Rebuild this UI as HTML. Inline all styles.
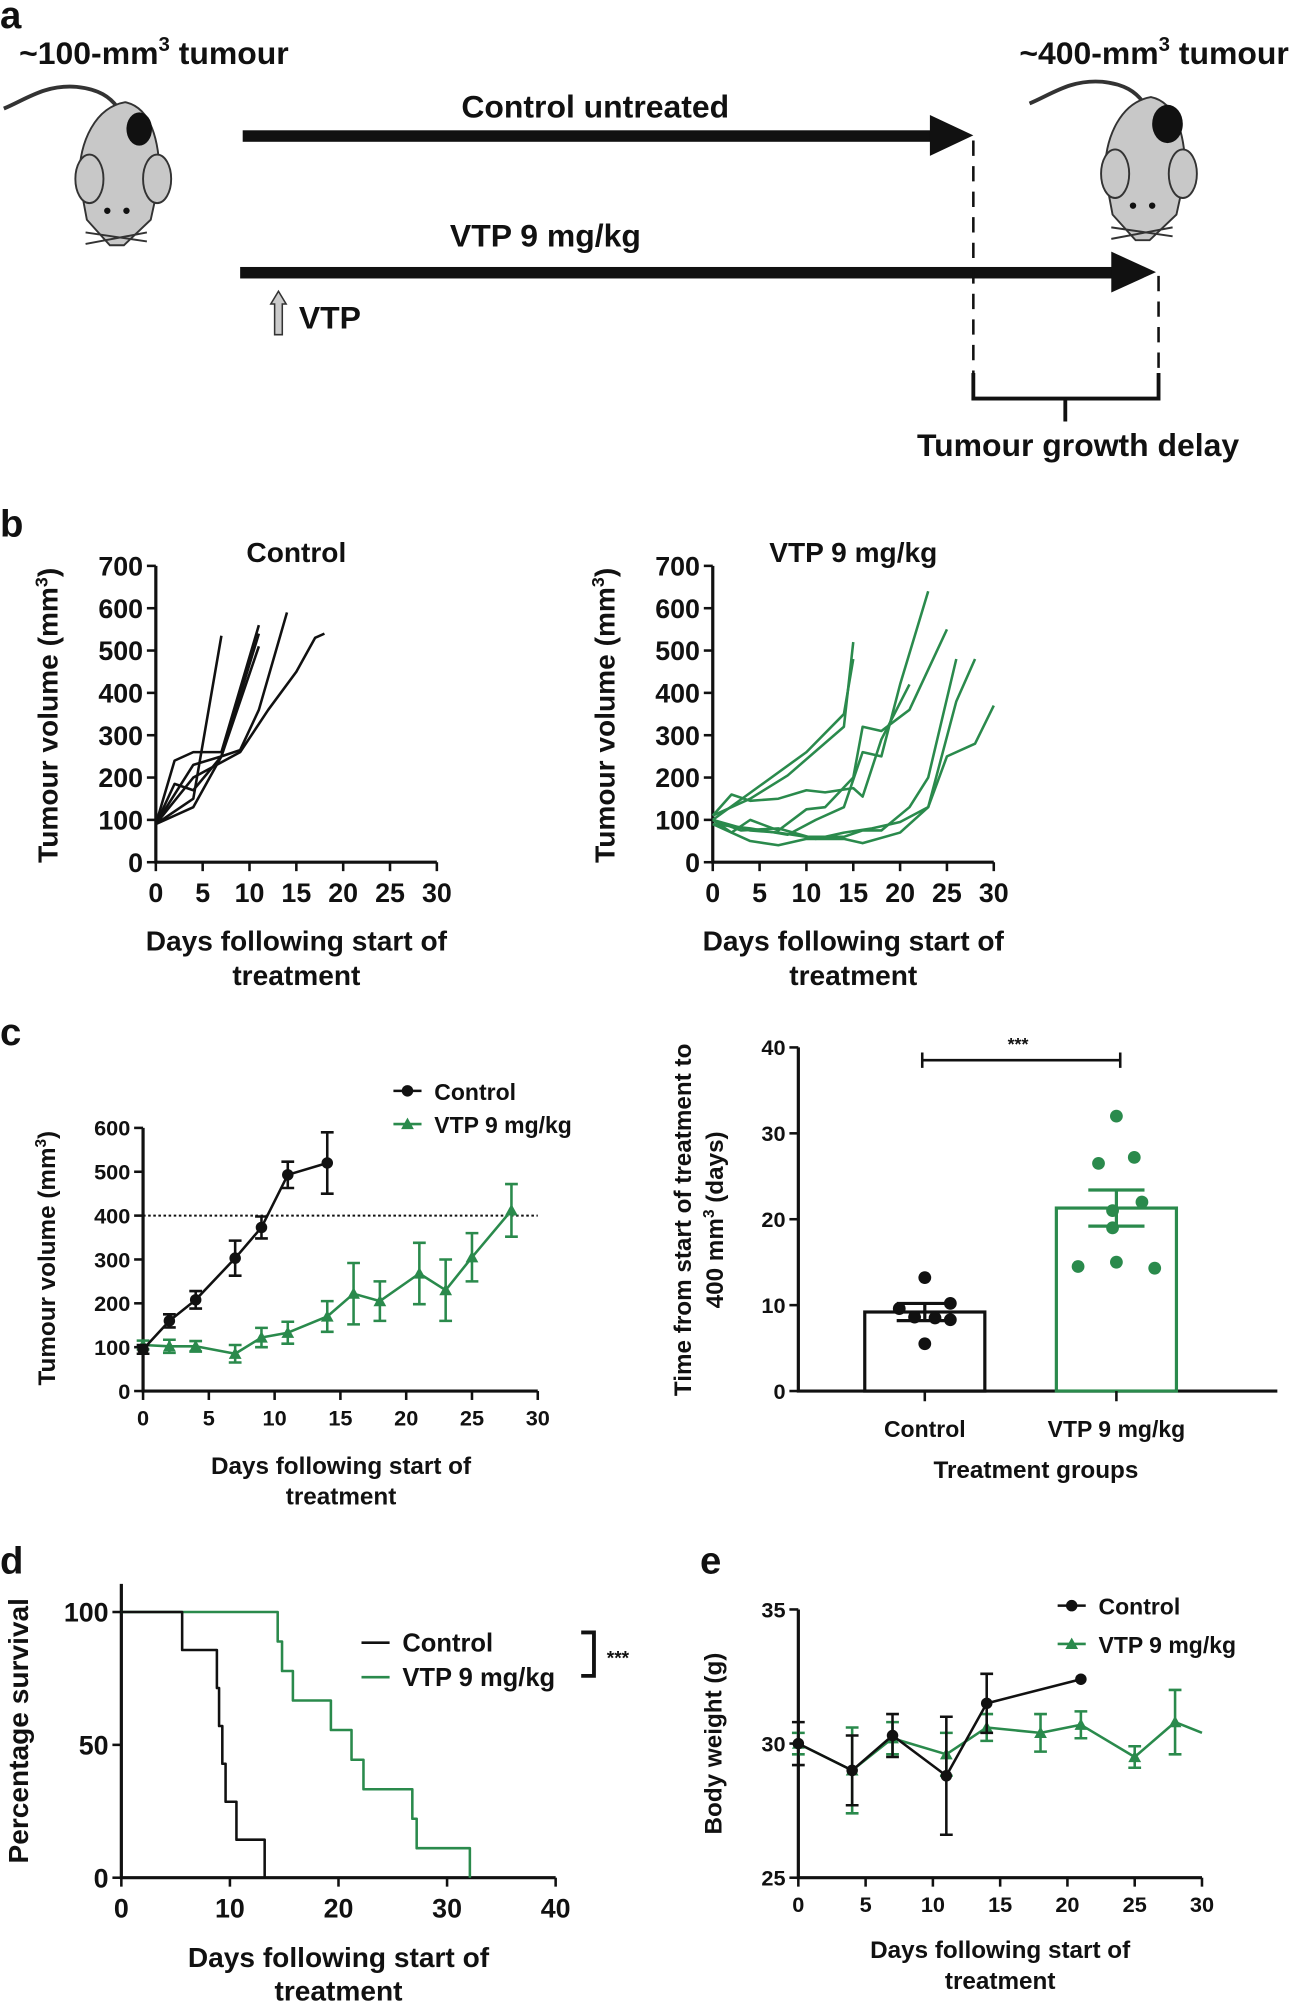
<!DOCTYPE html>
<html><head><meta charset="utf-8"><style>
html,body{margin:0;padding:0;background:#fff}
svg{display:block}
text{font-family:"Liberation Sans Narrow","Liberation Sans",sans-serif;font-weight:bold;fill:#111}
.ax{stroke:#111;stroke-width:2.5;fill:none}
</style></head><body>
<svg id="fig" width="1308" height="2008" viewBox="0 0 1024 1572" xmlns="http://www.w3.org/2000/svg">
<defs>
<g id="mouse">
<path d="M3,85 C20,78 35,66 60,68 C78,70 86,76 92,84" stroke="#333" stroke-width="3" fill="none"/>
<path d="M98,80 C118,84 125,110 125,140 L118,172 L97,192 L86,192 L68,172 L62,140 C62,110 75,84 98,80Z" fill="#c8c8c8" stroke="#333" stroke-width="1.5"/>
<ellipse cx="70" cy="140" rx="11" ry="19" fill="#c8c8c8" stroke="#333" stroke-width="1.5"/>
<ellipse cx="123" cy="140" rx="11" ry="19" fill="#c8c8c8" stroke="#333" stroke-width="1.5"/>
<circle cx="84" cy="165" r="2.5" fill="#111"/><circle cx="99" cy="165" r="2.5" fill="#111"/>
<path d="M67,182 L115,189 M67,191 L115,182" stroke="#333" stroke-width="1.5"/>
</g>
</defs>
<g>
<text x="0" y="22" font-size="30">a</text>
<g>
<use href="#mouse"/>
<ellipse cx="109" cy="101" rx="10" ry="13" fill="#111"/>
</g>
<g transform="translate(803,-4)">
<use href="#mouse"/>
<ellipse cx="111" cy="101" rx="12" ry="15" fill="#111"/>
</g>
<text x="15" y="50" font-size="25">~100-mm<tspan dy="-10" font-size="16">3</tspan><tspan dy="10"> tumour</tspan></text>
<text x="798" y="50" font-size="25">~400-mm<tspan dy="-10" font-size="16">3</tspan><tspan dy="10"> tumour</tspan></text>
<text x="466" y="92" font-size="25" text-anchor="middle">Control untreated</text>
<rect x="190" y="102" width="542" height="9" fill="#111"/>
<polygon points="728,90 762,106 728,122" fill="#111"/>
<text x="427" y="193" font-size="25" text-anchor="middle">VTP 9 mg/kg</text>
<rect x="188" y="209" width="686" height="9" fill="#111"/>
<polygon points="870,197 905,213 870,229" fill="#111"/>
<path d="M218,228 L224,238 L221,238 L221,262 L215,262 L215,238 L212,238Z" fill="#ccc" stroke="#333" stroke-width="1.2"/>
<text x="234" y="257" font-size="25">VTP</text>
<line x1="762" y1="110" x2="762" y2="295" stroke="#111" stroke-width="2" stroke-dasharray="12,8"/>
<line x1="907" y1="216" x2="907" y2="295" stroke="#111" stroke-width="2" stroke-dasharray="12,8"/>
<path d="M762,292 L762,312 L907,312 L907,292 M834,312 L834,330" stroke="#111" stroke-width="3" fill="none"/>
<text x="844" y="357" font-size="25" text-anchor="middle">Tumour growth delay</text>
</g>
<text x="0" y="420" font-size="30">b</text>
<text x="232" y="440" font-size="22" text-anchor="middle">Control</text>
<text x="668" y="440" font-size="22" text-anchor="middle">VTP 9 mg/kg</text>
<text transform="translate(45,560) rotate(-90)" font-size="22" text-anchor="middle" font-family="Liberation Sans">Tumour volume (mm<tspan dy="-8" font-size="14">3</tspan><tspan dy="8">)</tspan></text>
<text transform="translate(481,560) rotate(-90)" font-size="22" text-anchor="middle" font-family="Liberation Sans">Tumour volume (mm<tspan dy="-8" font-size="14">3</tspan><tspan dy="8">)</tspan></text>
<text x="232" y="744" font-size="22" text-anchor="middle">Days following start of</text>
<text x="232" y="771" font-size="22" text-anchor="middle">treatment</text>
<text x="668" y="744" font-size="22" text-anchor="middle">Days following start of</text>
<text x="668" y="771" font-size="22" text-anchor="middle">treatment</text>

<text x="0" y="818" font-size="30">c</text>
<text transform="translate(43,985) rotate(-90)" font-size="19" text-anchor="middle" font-family="Liberation Sans">Tumour volume (mm<tspan dy="-7" font-size="12">3</tspan><tspan dy="7">)</tspan></text>
<text x="267" y="1154" font-size="19" text-anchor="middle">Days following start of</text>
<text x="267" y="1178" font-size="19" text-anchor="middle">treatment</text>
<text transform="translate(541,955) rotate(-90)" font-size="19" text-anchor="middle" font-family="Liberation Sans">Time from start of treatment to</text>
<text transform="translate(566,955) rotate(-90)" font-size="19" text-anchor="middle" font-family="Liberation Sans">400 mm<tspan dy="-7" font-size="12">3</tspan><tspan dy="7"> (days)</tspan></text>
<text x="811" y="1157" font-size="19" text-anchor="middle">Treatment groups</text>

<text x="0" y="1232" font-size="30">d</text>
<text transform="translate(22,1355) rotate(-90)" font-size="22" text-anchor="middle" font-family="Liberation Sans">Percentage survival</text>
<text x="265" y="1540" font-size="22" text-anchor="middle">Days following start of</text>
<text x="265" y="1566" font-size="22" text-anchor="middle">treatment</text>
<text x="548" y="1232" font-size="30">e</text>
<text transform="translate(565,1365) rotate(-90)" font-size="19" text-anchor="middle" font-family="Liberation Sans">Body weight (g)</text>
<text x="783" y="1533" font-size="19" text-anchor="middle">Days following start of</text>
<text x="783" y="1557" font-size="19" text-anchor="middle">treatment</text>
<g id="dyn"></g>
</svg>
<script>
// ---- Panel b data ----
const bDayTicks=[0,5,10,15,20,25,30];
const bVolTicks=[0,100,200,300,400,500,600,700];
const bCtrlDays=[[0,2,4,7,11],[0,4,7],[0,2,4,7,11],[0,4,7,11],[0,4,7,9,11,14],[0,4,9,12,15,17,18]];
const bCtrlVols=[[90,240,260,260,560],[90,150,535],[90,185,170,250,540],[90,130,250,510],[90,230,250,265,360,590],[90,200,260,360,450,530,540]];
const bVtpDays=[[0,4,8,14,15],[0,5,10,14,15],[0,2,4,7,10,12,15,16,18,21],[0,2,4,7,10,12,15,16,18,21,25],[0,4,7,10,14,16,18,21,23,26],[0,4,7,10,14,16,20,23,25,28,30],[0,4,8,11,14,16,18,20,23],[0,3,7,11,14,17,20,23,26,28]];
const bVtpVols=[[110,150,205,320,520],[100,180,260,350,480],[110,160,145,150,170,165,175,155,290,420],[100,70,100,75,125,130,200,320,310,360,550],[100,75,70,60,60,75,75,130,200,480],[90,50,40,55,55,45,70,130,250,280,370],[90,80,65,100,130,260,250,420,640],[100,75,80,55,70,80,95,130,380,480]];
// ---- Panel c data ----
const cDayTicks=[0,5,10,15,20,25,30];
const cVolTicks=[0,100,200,300,400,500,600];
const cCtrlDays=[0,2,4,7,9,11,14];
const cCtrlMean=[95,160,208,303,373,493,520];
const cCtrlErr=[10,15,20,40,25,30,70];
const cVtpDays=[0,2,4,7,9,11,14,16,18,21,23,25,28];
const cVtpMean=[105,102,102,85,122,133,170,222,205,268,230,305,412];
const cVtpErr=[10,15,12,20,22,25,35,70,45,70,70,55,60];
const cThreshold=400;
const cGroups=["Control","VTP 9 mg/kg"];
const cGroupMeans=[9.2,21.3];
const cGroupSem=[1.0,2.1];
const cCtrlPoints=[13.2,9.6,8.3,8.6,10.2,8.5,5.5];
const cVtpPoints=[32,26.5,27.2,22,21,19,14.5,15,14.3];
const cTimeTicks=[0,10,20,30,40];
// ---- Panel d data ----
const dDayTicks=[0,10,20,30,40];
const dSurvTicks=[0,50,100];
const dCtrlTimes=[5.6,8.8,9.0,9.3,9.6,10.6,13.2];
const dCtrlSurv=[85.7,71.4,57.1,42.9,28.6,14.3,0];
const dVtpTimes=[14.4,14.8,15.8,19.3,21.2,22.3,26.8,27.2,32.1];
const dVtpSurv=[88.9,77.8,66.7,55.6,44.4,33.3,22.2,11.1,0];
// ---- Panel e data ----
const eDayTicks=[0,5,10,15,20,25,30];
const eWtTicks=[25,30,35];
const eCtrlDays=[0,4,7,11,14,21];
const eCtrlMean=[30,29,30.3,28.8,31.5,32.4];
const eCtrlErr=[0.8,1.3,0.8,2.2,1.1,0];
const eVtpDays=[0,4,7,11,14,18,21,25,28,30];
const eVtpMean=[30,29,30.2,29.6,30.6,30.4,30.7,29.5,30.8,30.4];
const eVtpErr=[0.4,1.6,0.6,0.8,0.5,0.7,0.5,0.4,1.2,0];

const G='#2a8a4c', K='#111';
const NS='http://www.w3.org/2000/svg';
const root=document.getElementById('dyn');
function mk(tag,attrs,txt){const e=document.createElementNS(NS,tag);for(const k in attrs)e.setAttribute(k,attrs[k]);if(txt!==undefined)e.textContent=txt;root.appendChild(e);return e;}
function axes(x0,y0,x1,y1,name){
  let e=mk('path',{d:`M${x0},${y1} L${x0},${y0} L${x1},${y0}`,class:'ax'});
  
  
}
function xticks(ticks,sx,y0,fs,name){
  ticks.forEach(t=>{
    let l=mk('line',{x1:sx(t),x2:sx(t),y1:y0,y2:y0+7,stroke:K,'stroke-width':2});
    
    
    let tx=mk('text',{x:sx(t),y:y0+fs+10,'font-size':fs,'text-anchor':'middle'},t);
    
    
  });
}
function yticks(ticks,sy,x0,fs,name){
  ticks.forEach(t=>{
    let l=mk('line',{x1:x0-7,x2:x0,y1:sy(t),y2:sy(t),stroke:K,'stroke-width':2});
    
    
    let tx=mk('text',{x:x0-10,y:sy(t)+fs*0.36,'font-size':fs,'text-anchor':'end'},t);
    
    
  });
}
function poly(xs,ys,sx,sy,col,w,name){
  let d=xs.map((x,i)=>(i?'L':'M')+sx(x)+','+sy(ys[i])).join(' ');
  let p=mk('path',{d:d,stroke:col,'stroke-width':w,fill:'none','stroke-linejoin':'round'});
  
  
}
function errbars(xs,m,er,sx,sy,col,name){
  xs.forEach((x,i)=>{
    if(!er[i])return;
    const X=sx(x),a=sy(m[i]-er[i]),b=sy(m[i]+er[i]);
    let p=mk('path',{d:`M${X},${a} L${X},${b} M${X-5},${a} L${X+5},${a} M${X-5},${b} L${X+5},${b}`,stroke:col,'stroke-width':2,fill:'none'});
    
    
  });
}
function markers(xs,m,sx,sy,col,tri,name,skipLast){
  xs.forEach((x,i)=>{
    if(skipLast&&i===xs.length-1)return;
    const X=sx(x),Y=sy(m[i]);let e;
    if(tri)e=mk('polygon',{points:`${X},${Y-5} ${X+5},${Y+4} ${X-5},${Y+4}`,fill:col});
    else e=mk('circle',{cx:X,cy:Y,r:4.5,fill:col});
    
    
  });
}
function legend(x,y,col,tri,label,fs,name){
  let l=mk('line',{x1:x,x2:x+22,y1:y,y2:y,stroke:col,'stroke-width':2});
  
  
  if(tri){let e=mk('polygon',{points:`${x+11},${y-5} ${x+16},${y+4} ${x+6},${y+4}`,fill:col});}
  else if(tri===false){let e=mk('circle',{cx:x+11,cy:y,r:4.5,fill:col});}
  let t=mk('text',{x:x+32,y:y+7,'font-size':fs},label);
  
  
}

{const sx=x=>122+x/30*220, sy=v=>675-v/700*232;
 axes(122,675,342,443,'b-left-axes');xticks(bDayTicks,sx,675,21,'b-left-x');yticks(bVolTicks,sy,122,21,'b-left-y');
 bCtrlDays.forEach((d,i)=>poly(d,bCtrlVols[i],sx,sy,K,2,'control-mouse-line'));}
{const sx=x=>558+x/30*220, sy=v=>675-v/700*232;
 axes(558,675,778,443,'b-right-axes');xticks(bDayTicks,sx,675,21,'b-right-x');yticks(bVolTicks,sy,558,21,'b-right-y');
 bVtpDays.forEach((d,i)=>poly(d,bVtpVols[i],sx,sy,G,2,'vtp-mouse-line'));}
{const sx=x=>112+x/30*309, sy=v=>1089-v/600*206;
 axes(112,1089,421,883,'c-left-axes');xticks(cDayTicks,sx,1089,17,'c-left-x');yticks(cVolTicks,sy,112,17,'c-left-y');
 let th=mk('line',{x1:112,x2:421,y1:sy(cThreshold),y2:sy(cThreshold),stroke:K,'stroke-width':1.5,'stroke-dasharray':'2,2'});
 
 
 errbars(cVtpDays,cVtpMean,cVtpErr,sx,sy,G,'vtp-error-bar');poly(cVtpDays,cVtpMean,sx,sy,G,2,'vtp-mean-line');markers(cVtpDays,cVtpMean,sx,sy,G,true,'vtp-point');
 errbars(cCtrlDays,cCtrlMean,cCtrlErr,sx,sy,K,'control-error-bar');poly(cCtrlDays,cCtrlMean,sx,sy,K,2,'control-mean-line');markers(cCtrlDays,cCtrlMean,sx,sy,K,false,'control-point');
 legend(308,854,K,false,'Control',18,'c-legend-control');legend(308,880,G,true,'VTP 9 mg/kg',18,'c-legend-vtp');}
{const sy=v=>1089-v/40*269, cx=[724,874], cols=[K,G], pts=[cCtrlPoints,cVtpPoints];
 const jit=[[0,-20,20,-8,20,8,0],[0,-14,14,20,-3,-3,-30,0,30]];
 axes(625,1089,1000,820,'c-right-axes');yticks(cTimeTicks,sy,625,17,'c-right-y');
 cGroups.forEach((g,i)=>{
  let b=mk('rect',{x:cx[i]-47,y:sy(cGroupMeans[i]),width:94,height:1089-sy(cGroupMeans[i]),fill:'#fff',stroke:cols[i],'stroke-width':2.5});
  
  
  pts[i].forEach((v,j)=>{let c=mk('circle',{cx:cx[i]+(jit[i][j]||0),cy:sy(v),r:5,fill:cols[i]});});
  const a=sy(cGroupMeans[i]-cGroupSem[i]),t=sy(cGroupMeans[i]+cGroupSem[i]);
  let e=mk('path',{d:`M${cx[i]},${a} L${cx[i]},${t} M${cx[i]-22},${a} L${cx[i]+22},${a} M${cx[i]-22},${t} L${cx[i]+22},${t}`,stroke:cols[i],'stroke-width':2.5,fill:'none'});
  
  
  let l=mk('line',{x1:cx[i],x2:cx[i],y1:1089,y2:1097,stroke:K,'stroke-width':2});
  
  
  let tx=mk('text',{x:cx[i],y:1125,'font-size':18,'text-anchor':'middle'},g);
  
  
 });
 let br=mk('path',{d:'M722,824 L722,836 M722,830 L877,830 M877,824 L877,836',stroke:K,'stroke-width':2,fill:'none'});
 
 
 let st=mk('text',{x:797,y:822,'font-size':14,'text-anchor':'middle'},'***');
 
 }
{const sx=t=>95+t/40*340, sy=s=>1470-s/100*208;
 axes(95,1470,435,1240,'d-axes');xticks(dDayTicks,sx,1470,21,'d-x');yticks(dSurvTicks,sy,95,21,'d-y');
 function steps(times,surv,col,name){let px=[0],py=[100],cur=100;times.forEach((t,i)=>{px.push(t,t);py.push(cur,surv[i]);cur=surv[i];});
  poly(px,py,sx,sy,col,2,name);}
 steps(dVtpTimes,dVtpSurv,G,'vtp-survival-curve');steps(dCtrlTimes,dCtrlSurv,K,'control-survival-curve');
 legend(283,1286,K,null,'Control',20,'d-legend-control');legend(283,1313,G,null,'VTP 9 mg/kg',20,'d-legend-vtp');
 let br=mk('path',{d:'M455,1278 L465,1278 L465,1312 L455,1312',stroke:K,'stroke-width':3,fill:'none'});
 
 
 let st=mk('text',{x:475,y:1303,'font-size':15},'***');
 
 }
{const sx=d=>625+d/30*316, sy=w=>1470-(w-25)/10*210;
 axes(625,1470,941,1260,'e-axes');xticks(eDayTicks,sx,1470,17,'e-x');yticks(eWtTicks,sy,625,17,'e-y');
 errbars(eVtpDays,eVtpMean,eVtpErr,sx,sy,G,'vtp-weight-error');poly(eVtpDays,eVtpMean,sx,sy,G,2,'vtp-weight-line');markers(eVtpDays,eVtpMean,sx,sy,G,true,'vtp-weight-point',true);
 errbars(eCtrlDays,eCtrlMean,eCtrlErr,sx,sy,K,'control-weight-error');poly(eCtrlDays,eCtrlMean,sx,sy,K,2,'control-weight-line');markers(eCtrlDays,eCtrlMean,sx,sy,K,false,'control-weight-point');
 legend(828,1257,K,false,'Control',18,'e-legend-control');legend(828,1287,G,true,'VTP 9 mg/kg',18,'e-legend-vtp');}
</script>
</body></html>
